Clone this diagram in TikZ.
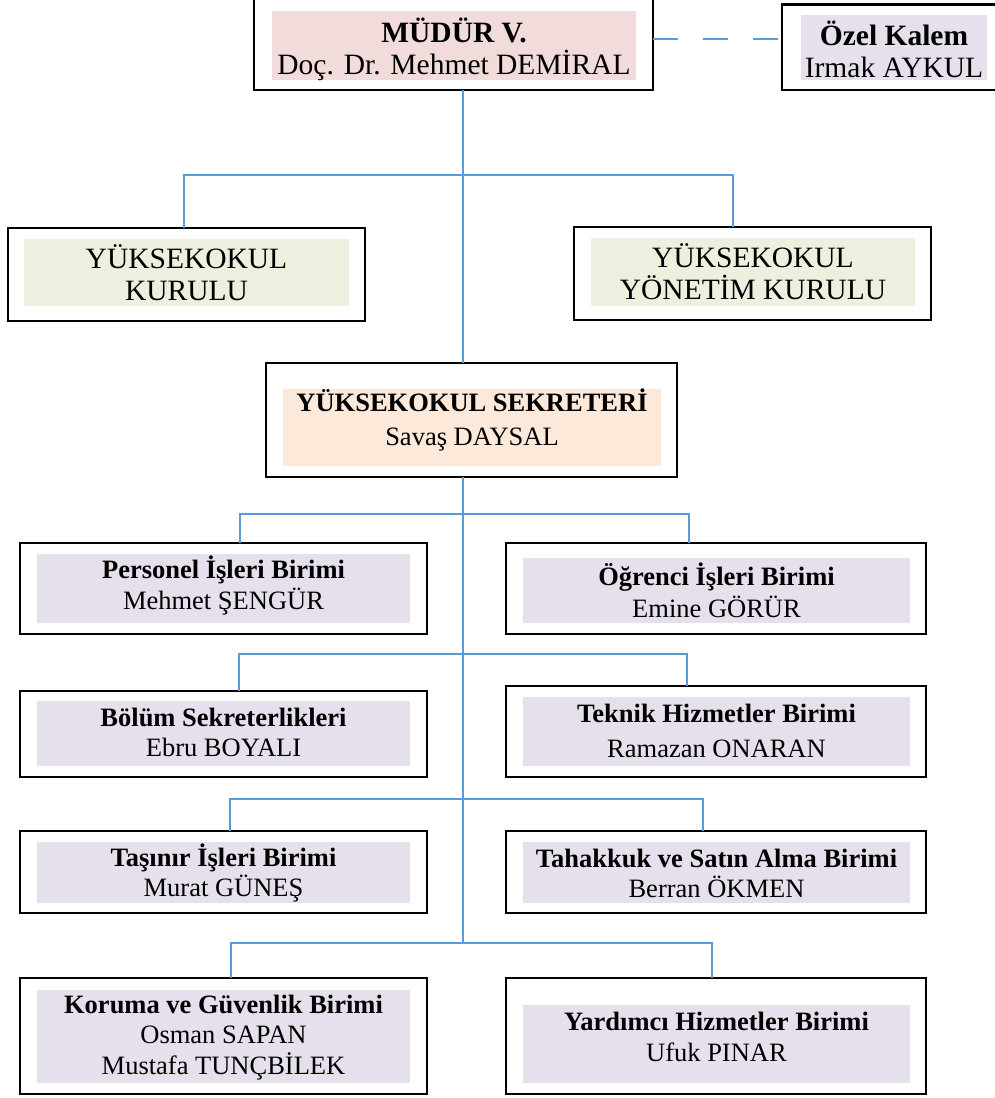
\documentclass[tikz,border=0pt]{standalone}
\usepackage{fontspec}
\setmainfont{Liberation Serif}
\definecolor{connblue}{HTML}{5B9BD5}
\definecolor{fpink}{HTML}{F2DCDB}
\definecolor{fgreen}{HTML}{EBF1DE}
\definecolor{fpeach}{HTML}{FDE9D9}
\definecolor{flav}{HTML}{E5E0EC}
\begin{document}
\begin{tikzpicture}[x=1pt,y=-1pt,
  outerbox/.style={draw=black, line width=2.5pt, inner sep=0pt, outer sep=0pt},
  innerfill/.style={inner sep=0pt, outer sep=0pt, draw=none},
  lbl/.style={align=center, inner sep=0pt, font=\fontsize{26.5}{31}\selectfont},
  biglbl/.style={align=center, inner sep=0pt, font=\fontsize{29.5}{32}\selectfont},
  link/.style={draw=connblue, line width=1.4pt}]
\useasboundingbox (0,0) rectangle (995,1098);
\fill[white] (0,0) rectangle (995,1098);

% ---- top row
\node[outerbox, minimum width=399pt, minimum height=91pt] (mudur) at (453.5,44.5) {};
\node[innerfill, fill=fpink, minimum width=364pt, minimum height=69pt] (mudurIn) at (454,45.5) {};
\node[biglbl] (mudurTx) at (454,49) {\textbf{MÜDÜR V.}\\Doç. Dr. Mehmet DEMİRAL};

\node[outerbox, minimum width=218pt, minimum height=85.5pt] (ozel) at (891,47.25) {};
\node[innerfill, fill=flav, minimum width=186pt, minimum height=65pt] (ozelIn) at (894,47.5) {};
\node[biglbl] (ozelTx) at (894,49) {\textbf{Özel Kalem}\\Irmak AYKUL};

% ---- councils
\node[outerbox, minimum width=357pt, minimum height=93pt] (yk) at (186.5,274.5) {};
\node[innerfill, fill=fgreen, minimum width=325pt, minimum height=67pt] (ykIn) at (186.5,272.5) {};
\node[biglbl] (ykTx) at (186.5,272.5) {YÜKSEKOKUL\\KURULU};

\node[outerbox, minimum width=357pt, minimum height=93pt] (ykyon) at (752.5,273.5) {};
\node[innerfill, fill=fgreen, minimum width=324pt, minimum height=68pt] (ykyonIn) at (753,272) {};
\node[biglbl] (ykyonTx) at (753,272) {YÜKSEKOKUL\\YÖNETİM KURULU};

% ---- secretary
\node[outerbox, minimum width=411pt, minimum height=114pt] (sek) at (471.5,420) {};
\node[innerfill, fill=fpeach, minimum width=378pt, minimum height=77pt] (sekIn) at (472,427.5) {};
\node[lbl, font=\fontsize{26.5}{34}\selectfont] (sekTx) at (472,420) {\textbf{YÜKSEKOKUL SEKRETERİ}\\Savaş DAYSAL};

% ---- units row 1
\node[outerbox, minimum width=407pt, minimum height=91pt] (pers) at (223.5,588.5) {};
\node[innerfill, fill=flav, minimum width=373pt, minimum height=69pt] (persIn) at (223.5,588.5) {};
\node[lbl] (persTx) at (223.5,585.5) {\textbf{Personel İşleri Birimi}\\Mehmet ŞENGÜR};

\node[outerbox, minimum width=420pt, minimum height=91pt] (ogr) at (716,588.5) {};
\node[innerfill, fill=flav, minimum width=387pt, minimum height=65pt] (ogrIn) at (716.5,590.5) {};
\node[lbl, font=\fontsize{26.5}{32}\selectfont] (ogrTx) at (716.5,590) {\textbf{Öğrenci İşleri Birimi}\\Emine GÖRÜR};

% ---- units row 2
\node[outerbox, minimum width=407pt, minimum height=86pt] (bolum) at (223.5,734) {};
\node[innerfill, fill=flav, minimum width=373pt, minimum height=65pt] (bolumIn) at (223.5,733.5) {};
\node[lbl, font=\fontsize{26.5}{30}\selectfont] (bolumTx) at (223.5,732) {\textbf{Bölüm Sekreterlikleri}\\Ebru BOYALI};

\node[outerbox, minimum width=420pt, minimum height=91pt] (teknik) at (716,731.5) {};
\node[innerfill, fill=flav, minimum width=387pt, minimum height=69pt] (teknikIn) at (716.5,731.5) {};
\node[lbl, font=\fontsize{26.5}{35}\selectfont] (teknikTx) at (716.5,730.5) {\textbf{Teknik Hizmetler Birimi}\\Ramazan ONARAN};

% ---- units row 3
\node[outerbox, minimum width=407pt, minimum height=82pt] (tasinir) at (223.5,872) {};
\node[innerfill, fill=flav, minimum width=373pt, minimum height=61pt] (tasinirIn) at (223.5,872.5) {};
\node[lbl, font=\fontsize{26.5}{30}\selectfont] (tasinirTx) at (223.5,873) {\textbf{Taşınır İşleri Birimi}\\Murat GÜNEŞ};

\node[outerbox, minimum width=420pt, minimum height=82pt] (tahak) at (716,872) {};
\node[innerfill, fill=flav, minimum width=387pt, minimum height=61pt] (tahakIn) at (716.5,872.5) {};
\node[lbl, font=\fontsize{26.5}{30}\selectfont] (tahakTx) at (716.5,873) {\textbf{Tahakkuk ve Satın Alma Birimi}\\Berran ÖKMEN};

% ---- units row 4
\node[outerbox, minimum width=407pt, minimum height=116pt] (koruma) at (223.5,1036) {};
\node[innerfill, fill=flav, minimum width=373pt, minimum height=93pt] (korumaIn) at (223.5,1036.5) {};
\node[lbl, font=\fontsize{26.5}{30.5}\selectfont] (korumaTx) at (223.5,1037.5) {\textbf{Koruma ve Güvenlik Birimi}\\Osman SAPAN\\Mustafa TUNÇBİLEK};

\node[outerbox, minimum width=420pt, minimum height=116pt] (yard) at (716,1036) {};
\node[innerfill, fill=flav, minimum width=387pt, minimum height=78pt] (yardIn) at (716.5,1044) {};
\node[lbl] (yardTx) at (716.5,1036.5) {\textbf{Yardımcı Hizmetler Birimi}\\Ufuk PINAR};

% ---- connector coordinates
\coordinate (t) at (463,0);
\coordinate (b0l) at (184,175);   \coordinate (b0r) at (733,175);
\coordinate (b1l) at (240,514);   \coordinate (b1r) at (689,514);
\coordinate (b2l) at (239,654);   \coordinate (b2r) at (687,654);
\coordinate (b3l) at (230,799);   \coordinate (b3r) at (703,799);
\coordinate (b4l) at (231,943);   \coordinate (b4r) at (712,943);
\coordinate (tend) at (463,943);
\coordinate (dy) at (0,39);

% ---- connectors
\draw[link] (t |- mudur.south) -- (t |- sek.north);
\draw[link] (t |- sek.south) -- (tend);
\draw[link] (b0l |- yk.north) -- (b0l) -- (b0r) -- (b0r |- ykyon.north);
\draw[link] (b1l |- pers.north) -- (b1l) -- (b1r) -- (b1r |- ogr.north);
\draw[link] (b2l |- bolum.north) -- (b2l) -- (b2r) -- (b2r |- teknik.north);
\draw[link] (b3l |- tasinir.north) -- (b3l) -- (b3r) -- (b3r |- tahak.north);
\draw[link] (b4l |- koruma.north) -- (b4l) -- (b4r) -- (b4r |- yard.north);
\draw[link, dash pattern=on 25pt off 25pt] (mudur.east |- dy) -- (ozel.west |- dy);
\end{tikzpicture}
\end{document}
